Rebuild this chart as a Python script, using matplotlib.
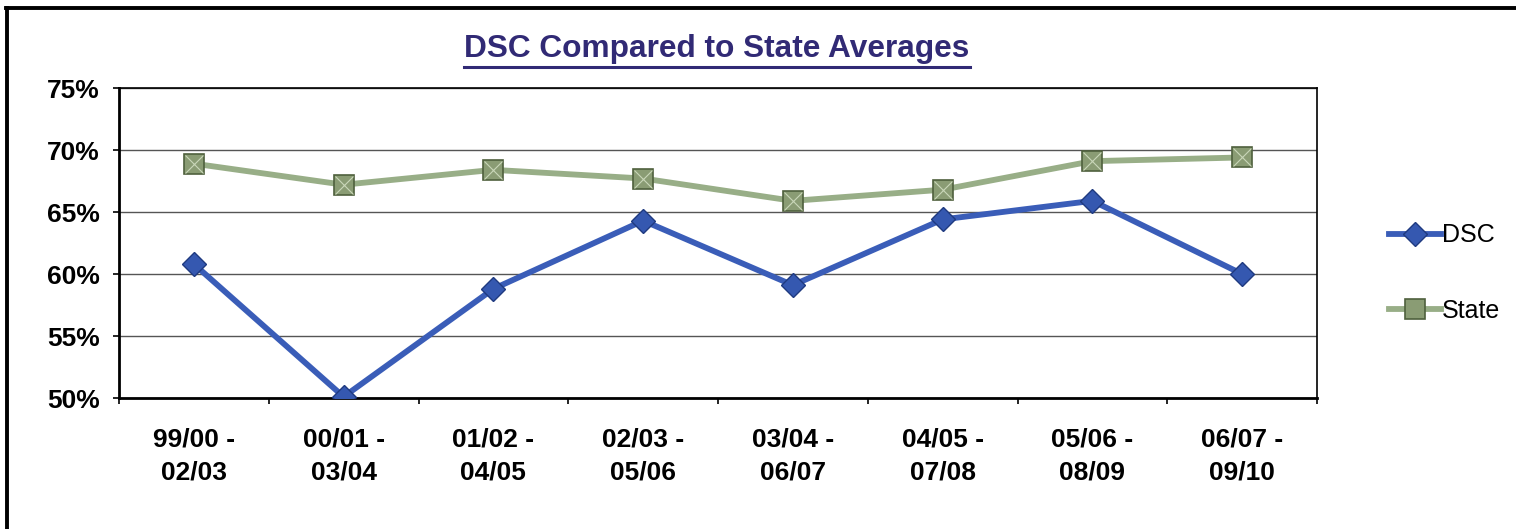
import numpy as np
import matplotlib
matplotlib.use('Agg')
import matplotlib.pyplot as plt
from matplotlib.lines import Line2D

plt.rcParams['font.family'] = ['Liberation Sans', 'DejaVu Sans']

# data
periods = ['99/00 -\n02/03', '00/01 -\n03/04', '01/02 -\n04/05', '02/03 -\n05/06',
           '03/04 -\n06/07', '04/05 -\n07/08', '05/06 -\n08/09', '06/07 -\n09/10']
dsc = [60.8, 50.1, 58.8, 64.3, 59.1, 64.4, 65.9, 60.0]
state = [68.9, 67.2, 68.4, 67.7, 65.9, 66.8, 69.1, 69.4]
yticks = [50, 55, 60, 65, 70, 75]

W, H = 1516, 529
fig = plt.figure(figsize=(W / 100, H / 100), dpi=100)
ax = fig.add_axes([119 / W, 1 - 398 / H, (1317 - 119) / W, (398 - 88) / H])

x = np.arange(len(periods)) + 0.5

blue = '#3a5db8'
green = '#98ae87'

ax.plot(x, state, color=green, lw=4.2, marker='s', ms=14.5,
        mfc='#8a9c74', mec='#4f603d', mew=1.2, label='State', zorder=3)
ax.plot(x, state, ls='none', marker='x', ms=13, mec='#c9d6b8', mew=0.8, zorder=4)
ax.plot(x, dsc, color=blue, lw=4.2, marker='D', ms=12,
        mfc='#3558b0', mec='#1f3a80', mew=1.0, label='DSC', zorder=3)

ax.set_xlim(0, len(periods))
ax.set_ylim(50, 75)

ax.set_yticks(yticks)
ax.set_yticklabels([f'{v}%' for v in yticks], fontsize=19, fontweight='bold')
ax.tick_params(axis='y', direction='out', length=4, width=1.2, pad=10)

ax.set_xticks(np.arange(len(periods) + 1))
ax.set_xticklabels([])
ax.set_xticks(x, minor=True)
ax.set_xticklabels(periods, minor=True, fontsize=19, fontweight='bold', linespacing=1.5)
ax.tick_params(axis='x', which='major', direction='out', length=4, width=1.2)
ax.tick_params(axis='x', which='minor', length=0, pad=21)

ax.grid(axis='y', color='#555555', lw=1.0)
ax.set_axisbelow(True)
for s in ['top', 'right']:
    ax.spines[s].set_linewidth(1.2)
for s in ['left', 'bottom']:
    ax.spines[s].set_linewidth(2.0)

# legend, DSC first
h, l = ax.get_legend_handles_labels()
leg = fig.legend([h[1], h[0]], [l[1], l[0]], loc='center left',
                 bbox_to_anchor=(1376 / W, 1 - 273 / H), frameon=False,
                 fontsize=18, handlelength=2.1, handletextpad=0.05,
                 labelspacing=2.06, borderpad=0)

# underlined title
title = fig.text(717 / W, 1 - 49 / H, 'DSC Compared to State Averages',
                 ha='center', va='center', fontsize=22.8, fontweight='bold',
                 color='#312a75')
fig.canvas.draw()
bb = title.get_window_extent().transformed(fig.transFigure.inverted())
fig.add_artist(Line2D([bb.x0, bb.x1], [1 - 67 / H, 1 - 67 / H],
                      transform=fig.transFigure, color='#312a75', lw=2.2))

# outer border (top and left)
fig.add_artist(Line2D([6 / W, 1], [1 - 8 / H, 1 - 8 / H],
                      transform=fig.transFigure, color='black', lw=2.8))
fig.add_artist(Line2D([7 / W, 7 / W], [0, 1 - 8 / H],
                      transform=fig.transFigure, color='black', lw=2.8))

fig.savefig('out.png', dpi=100)
